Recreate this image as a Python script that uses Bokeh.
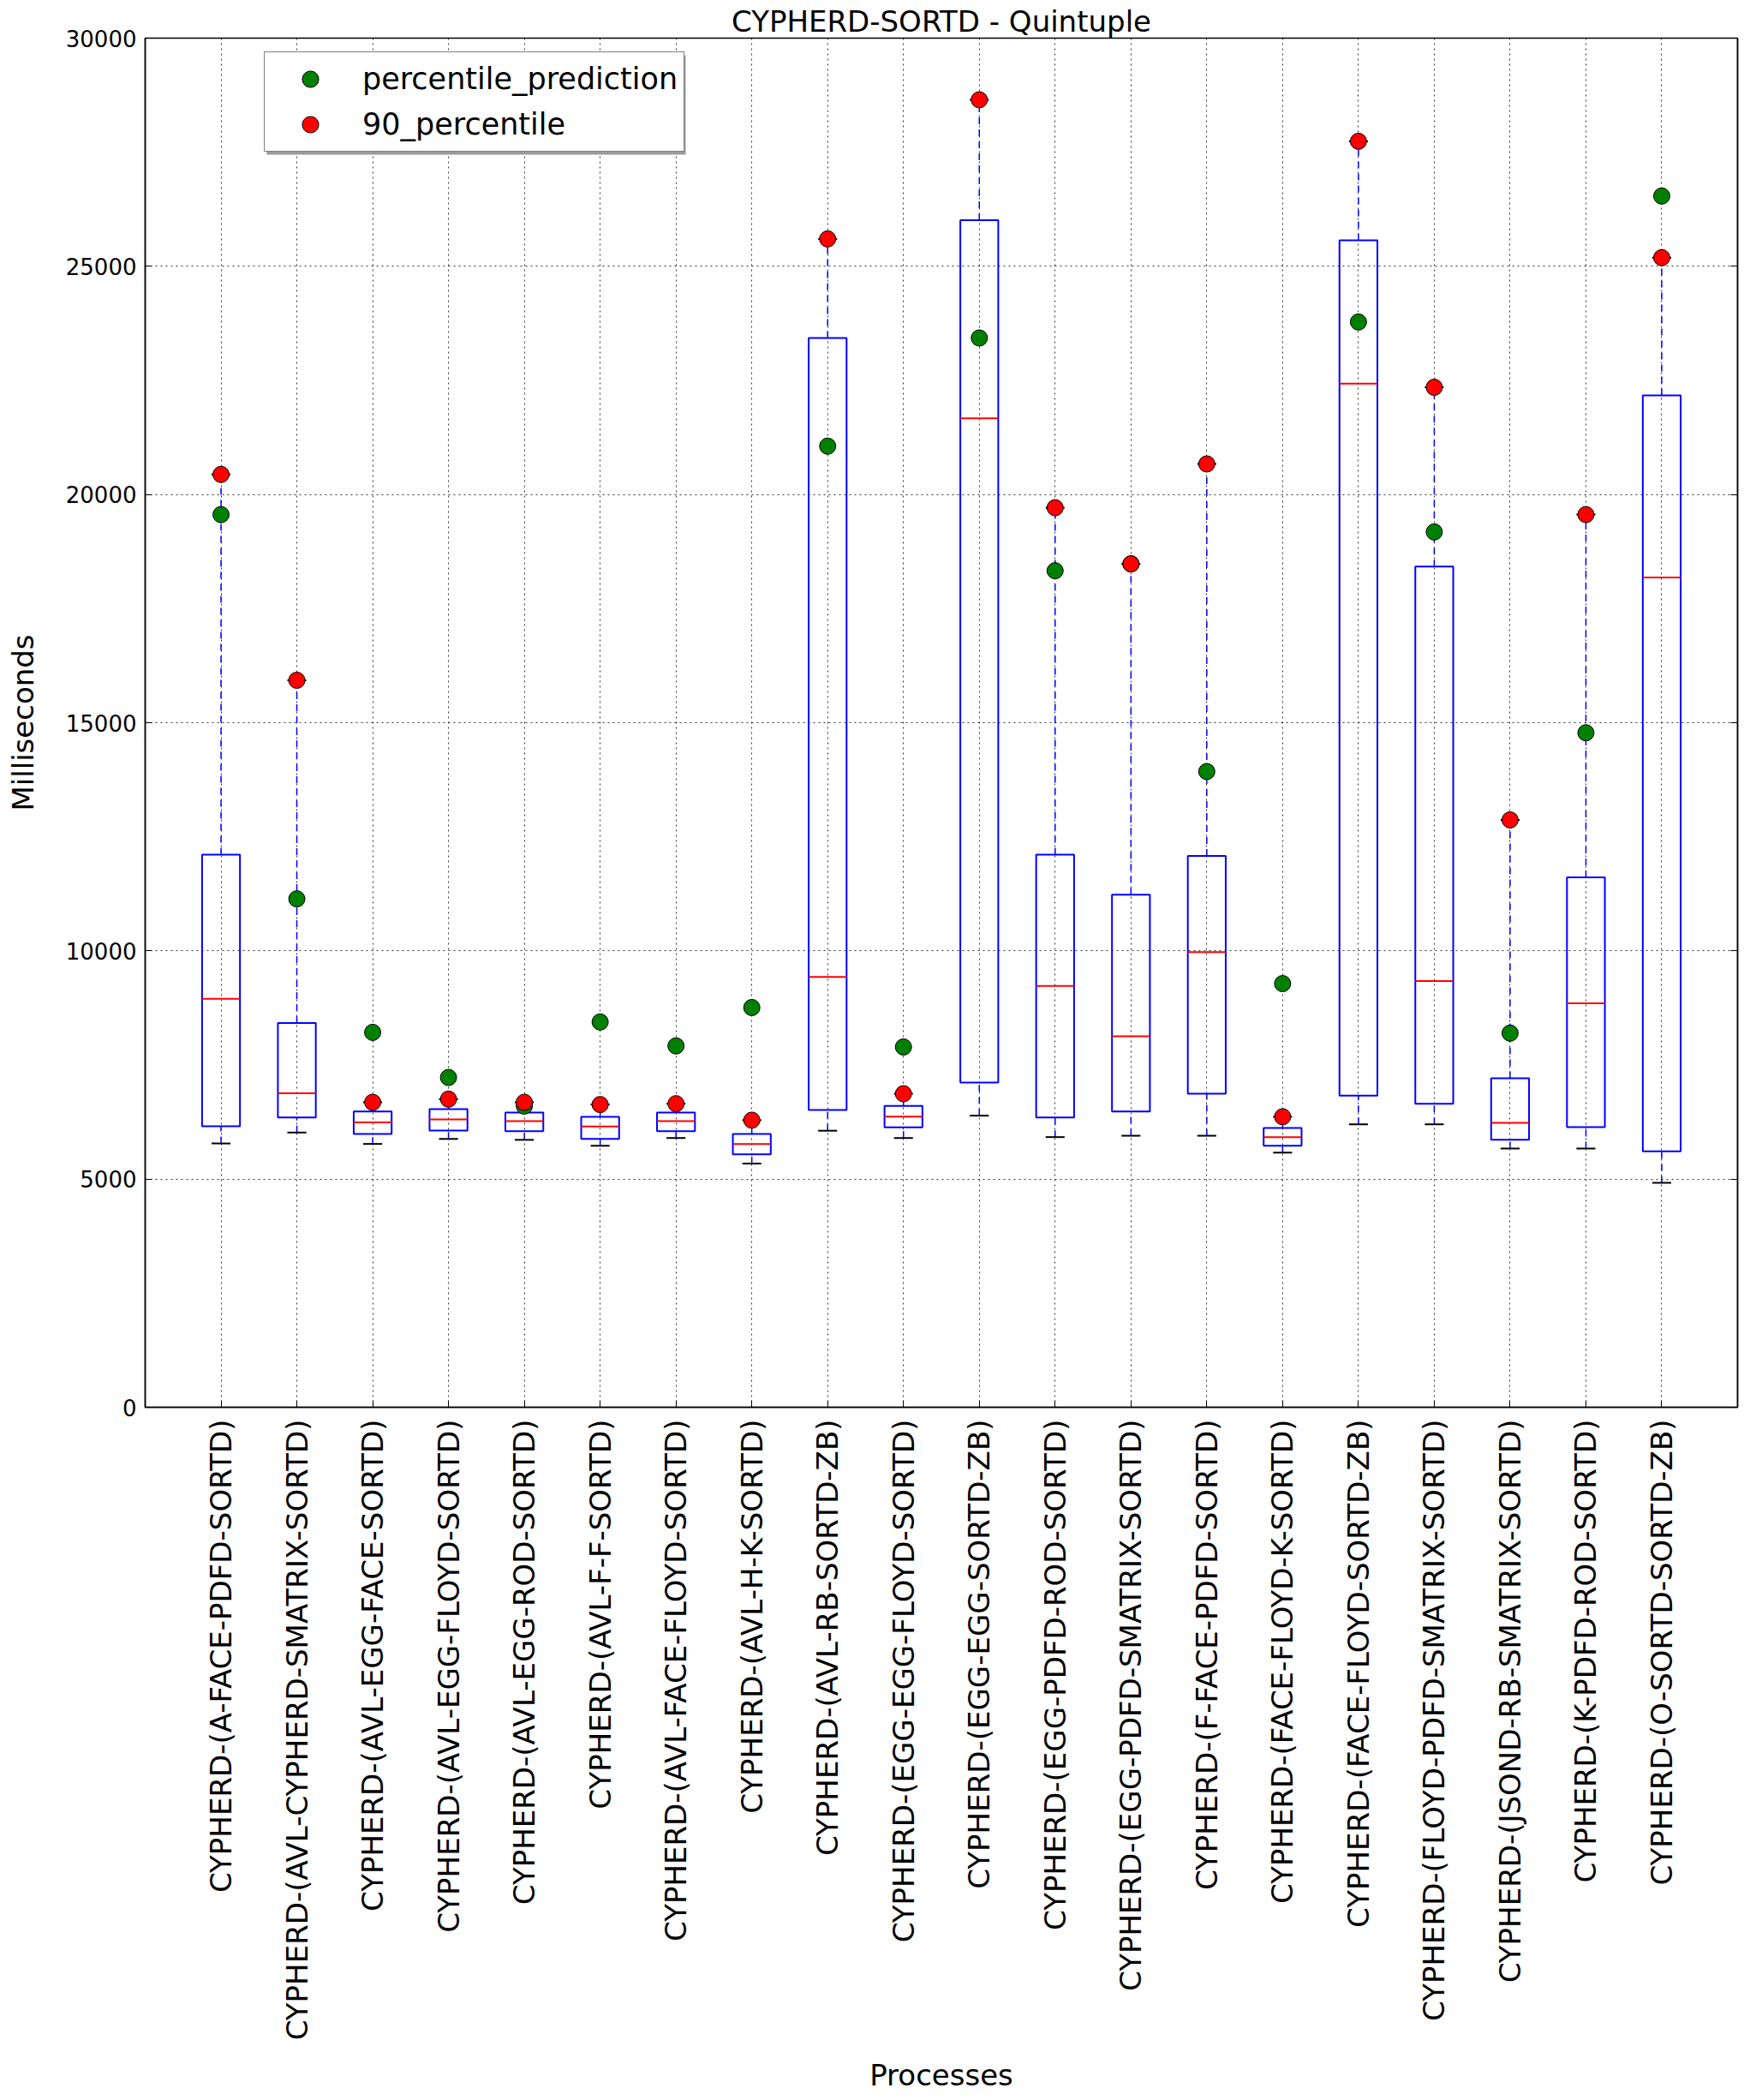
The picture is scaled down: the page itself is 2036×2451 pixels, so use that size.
import math
import pandas as pd
from bokeh.plotting import figure
from bokeh.models import (Range1d, FixedTicker, LinearAxis, Legend, LegendItem,
                          ColumnDataSource, BoxAnnotation)
from bokeh.embed import file_html
from bokeh.resources import INLINE

# ---------------- data ----------------
categories = [
    "CYPHERD-(A-FACE-PDFD-SORTD)",
    "CYPHERD-(AVL-CYPHERD-SMATRIX-SORTD)",
    "CYPHERD-(AVL-EGG-FACE-SORTD)",
    "CYPHERD-(AVL-EGG-FLOYD-SORTD)",
    "CYPHERD-(AVL-EGG-ROD-SORTD)",
    "CYPHERD-(AVL-F-F-SORTD)",
    "CYPHERD-(AVL-FACE-FLOYD-SORTD)",
    "CYPHERD-(AVL-H-K-SORTD)",
    "CYPHERD-(AVL-RB-SORTD-ZB)",
    "CYPHERD-(EGG-EGG-FLOYD-SORTD)",
    "CYPHERD-(EGG-EGG-SORTD-ZB)",
    "CYPHERD-(EGG-PDFD-ROD-SORTD)",
    "CYPHERD-(EGG-PDFD-SMATRIX-SORTD)",
    "CYPHERD-(F-FACE-PDFD-SORTD)",
    "CYPHERD-(FACE-FLOYD-K-SORTD)",
    "CYPHERD-(FACE-FLOYD-SORTD-ZB)",
    "CYPHERD-(FLOYD-PDFD-SMATRIX-SORTD)",
    "CYPHERD-(JSOND-RB-SMATRIX-SORTD)",
    "CYPHERD-(K-PDFD-ROD-SORTD)",
    "CYPHERD-(O-SORTD-SORTD-ZB)",
]
whisker_low = [5780, 6020, 5770, 5880, 5860, 5730, 5900, 5340, 6060, 5900,
               6390, 5920, 5950, 5950, 5580, 6200, 6200, 5670, 5670, 4920]
q1 = [6160, 6350, 5990, 6065, 6050, 5880, 6050, 5545, 6515, 6135,
      7115, 6350, 6480, 6870, 5730, 6830, 6650, 5860, 6140, 5610]
median = [8950, 6880, 6240, 6310, 6270, 6155, 6270, 5767, 9430, 6370,
          21670, 9230, 8130, 9975, 5917, 22430, 9340, 6235, 8853, 18180]
q3 = [12110, 8420, 6480, 6535, 6460, 6366, 6460, 5991, 23430, 6605,
      26010, 12110, 11230, 12080, 6122, 25570, 18420, 7207, 11613, 22170]
whisker_high = [20440, 15930, 6683, 6752, 6683, 6634, 6652, 6291, 25600, 6870,
                28650, 19710, 18480, 20670, 6366, 27740, 22350, 12870, 19560, 25190]
percentile_90 = [20440, 15930, 6683, 6752, 6683, 6634, 6652, 6291, 25600, 6870,
                 28650, 19710, 18480, 20670, 6366, 27740, 22350, 12870, 19560, 25190]
percentile_prediction = [19560, 11140, 8215, 7226, 6600, 8442, 7918, 8759, 21060, 7895,
                         23430, 18330, 18480, 13930, 9283, 23780, 19180, 8198, 14780, 26540]
y_ticks = [0, 5000, 10000, 15000, 20000, 25000, 30000]

FONT = "DejaVu Sans"
BOX_W = 0.5
CAP_W = 0.25

n = len(categories)
xs = list(range(1, n + 1))
df = pd.DataFrame({
    "x": xs, "cat": categories, "low": whisker_low, "q1": q1, "med": median,
    "q3": q3, "high": whisker_high, "p90": percentile_90, "pred": percentile_prediction,
})
df["bl"] = df["x"] - BOX_W / 2
df["br"] = df["x"] + BOX_W / 2
df["cl"] = df["x"] - CAP_W / 2
df["cr"] = df["x"] + CAP_W / 2
src = ColumnDataSource(df)

p = figure(width=2036, height=2451,
           x_range=Range1d(0, n + 1), y_range=Range1d(y_ticks[0], y_ticks[-1]),
           output_backend="svg", toolbar_location=None,
           title="CYPHERD-SORTD - Quintuple",
           min_border_left=169, min_border_right=8, min_border_top=44,
           min_border_bottom=809)
p.title.align = "center"
p.title.text_font = FONT
p.title.text_font_size = "34px"
p.title.text_font_style = "normal"
p.title.text_color = "black"
p.title.standoff = 0
p.title.offset = 0
p.background_fill_color = "white"
p.border_fill_color = "white"
p.outline_line_color = "black"
p.outline_line_width = 1.5

# axes
p.xaxis.ticker = FixedTicker(ticks=xs)
p.xaxis.major_label_overrides = {x: c for x, c in zip(xs, categories)}
p.xaxis.major_label_orientation = math.pi / 2
p.xaxis.major_label_text_font = FONT
p.xaxis.major_label_text_font_size = "34px"
p.xaxis.major_label_standoff = 14
p.xaxis.axis_label = "Processes"
p.xaxis.axis_label_standoff = 18
p.yaxis.ticker = FixedTicker(ticks=y_ticks)
p.yaxis.major_label_text_font = FONT
p.yaxis.major_label_text_font_size = "26px"
p.yaxis.major_label_standoff = 10
p.yaxis.axis_label = "Milliseconds"
p.yaxis.axis_label_standoff = 27
for ax in (p.xaxis[0], p.yaxis[0]):
    ax.axis_label_text_font = FONT
    ax.axis_label_text_font_size = "34px"
    ax.axis_label_text_font_style = "normal"
    ax.axis_label_text_color = "black"
    ax.major_label_text_color = "black"
    ax.major_tick_in = 8
    ax.major_tick_out = 0
    ax.minor_tick_in = 0
    ax.minor_tick_out = 0
    ax.axis_line_color = "black"
    ax.axis_line_width = 1.5
    ax.major_tick_line_color = "black"

right_ax = LinearAxis(ticker=FixedTicker(ticks=y_ticks),
                      major_label_overrides={t: "" for t in y_ticks},
                      major_label_text_font_size="0px", major_label_standoff=0,
                      major_tick_in=8, major_tick_out=0, minor_tick_in=0, minor_tick_out=0,
                      axis_line_width=1.5)
p.add_layout(right_ax, "right")

for g in (p.xgrid[0], p.ygrid[0]):
    g.grid_line_color = "black"
    g.grid_line_dash = "2 4"
    g.grid_line_width = 1
    g.grid_line_alpha = 0.8

# whiskers
p.segment(x0="x", y0="q3", x1="x", y1="high", source=src,
          line_color="#0000ff", line_width=1.5, line_dash="8 6")
p.segment(x0="x", y0="low", x1="x", y1="q1", source=src,
          line_color="#0000ff", line_width=1.5, line_dash="8 6")
# boxes
p.quad(left="bl", right="br", bottom="q1", top="q3", source=src,
       fill_alpha=0, line_color="#0000ff", line_width=2)
# medians
p.segment(x0="bl", y0="med", x1="br", y1="med", source=src,
          line_color="#ff0000", line_width=2)
# caps
p.segment(x0="cl", y0="low", x1="cr", y1="low", source=src,
          line_color="black", line_width=2)
p.segment(x0="cl", y0="high", x1="cr", y1="high", source=src,
          line_color="black", line_width=2)

g_r = p.scatter(x="x", y="pred", source=src, size=19, fill_color="#008000",
                line_color="black", line_width=1)
r_r = p.scatter(x="x", y="p90", source=src, size=19, fill_color="#ff0000",
                line_color="black", line_width=1)

# legend drop shadow (screen units, relative to the plot frame)
LEG_X, LEG_Y, LEG_W, LEG_H, SH = 139, 1465, 489, 116, 3
shadow = BoxAnnotation(left=LEG_X + SH, right=LEG_X + LEG_W + SH,
                       bottom=LEG_Y - SH, top=LEG_Y + LEG_H - SH,
                       left_units="screen", right_units="screen",
                       bottom_units="screen", top_units="screen",
                       fill_color="#9a9a9a", fill_alpha=1, line_color=None)
p.add_layout(shadow)

legend = Legend(items=[LegendItem(label="percentile_prediction", renderers=[g_r]),
                       LegendItem(label="90_percentile", renderers=[r_r])],
                location=(LEG_X, LEG_Y))
legend.label_text_font = FONT
legend.label_text_font_size = "35px"
legend.label_text_color = "black"
legend.padding = 7
legend.spacing = 5
legend.glyph_width = 92
legend.glyph_height = 48
legend.label_standoff = 15
legend.label_height = 48
legend.margin = 0
legend.border_line_color = "black"
legend.border_line_width = 1.5
legend.background_fill_color = "white"
legend.background_fill_alpha = 1
p.add_layout(legend, "center")

open("out.html", "w").write(file_html(p, INLINE))
